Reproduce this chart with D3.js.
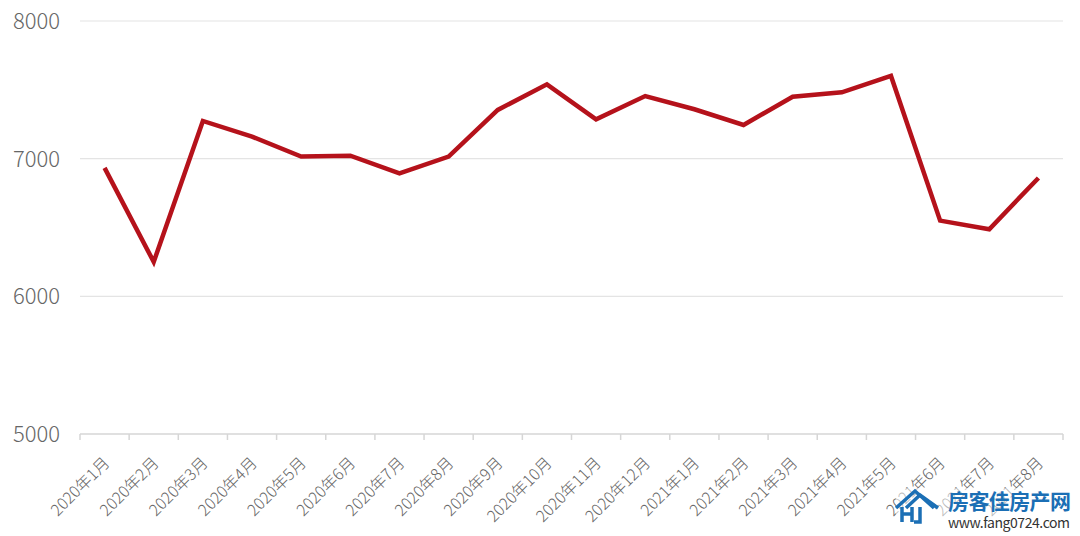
<!DOCTYPE html>
<html>
<head>
<meta charset="utf-8">
<script src="https://cdn.jsdelivr.net/npm/d3@7"></script>
<style>
  body { margin: 0; background: #fff; }
  text { font-family: "Noto Sans CJK SC", "Noto Sans", sans-serif; }
</style>
</head>
<body>
<svg id="chart"></svg>
<script>
var months = ["2020年1月","2020年2月","2020年3月","2020年4月","2020年5月","2020年6月","2020年7月","2020年8月","2020年9月","2020年10月",
              "2020年11月","2020年12月","2021年1月","2021年2月","2021年3月","2021年4月","2021年5月","2021年6月","2021年7月","2021年8月"]
var prices = [6933, 6250, 7274, 7160, 7015, 7022, 6894, 7015, 7354, 7540,
              7286, 7455, 7359, 7245, 7450, 7482, 7601, 6550, 6487, 6860]
var yTicks = [5000, 6000, 7000, 8000]

var width = 1080, height = 536
var svg = d3.select("#chart").attr("width", width).attr("height", height)

var x = d3.scaleBand().domain(months).range([80, 1063])
var y = d3.scaleLinear().domain([5000, 8000]).range([434, 21])

// grid lines
svg.selectAll("line.grid").data(yTicks.filter(d => d > 5000)).enter().append("line")
    .attr("class", "grid")
    .attr("x1", 80).attr("x2", 1063)
    .attr("y1", d => y(d)).attr("y2", d => y(d))
    .attr("stroke", "#e4e4e4").attr("stroke-width", 1.2)

// y labels
svg.selectAll("text.ylab").data(yTicks).enter().append("text")
    .attr("class", "ylab")
    .attr("x", 60).attr("y", d => y(d) + 8)
    .attr("text-anchor", "end")
    .attr("font-size", "22px")
    .attr("font-weight", 300)
    .attr("fill", "#666")
    .text(d => d)

// x axis with tick marks between bands
var xAxis = svg.append("g").attr("transform", "translate(0," + y(5000) + ")")
xAxis.append("line").attr("x1", 80).attr("x2", 1063).attr("stroke", "#d6d6d6").attr("stroke-width", 1.5)
xAxis.selectAll("line.tk").data(months.concat(["end"])).enter().append("line")
    .attr("class", "tk")
    .attr("x1", (d, i) => i < months.length ? x(d) : x.range()[1])
    .attr("x2", (d, i) => i < months.length ? x(d) : x.range()[1])
    .attr("y1", 0).attr("y2", 6)
    .attr("stroke", "#d6d6d6").attr("stroke-width", 1.5)

xAxis.selectAll("text").data(months).enter().append("text")
    .attr("transform", d => "translate(" + (x(d) + x.bandwidth() / 2 + 6) + ",30) rotate(-45)")
    .attr("text-anchor", "end")
    .attr("font-size", "16px")
    .attr("font-weight", 300)
    .attr("fill", "#666")
    .text(d => d)

// line
var line = d3.line()
    .x((d, i) => x(months[i]) + x.bandwidth() / 2)
    .y(d => y(d))

svg.append("path").datum(prices)
    .attr("d", line)
    .attr("fill", "none")
    .attr("stroke", "#b5121b")
    .attr("stroke-width", 4.5)
    .attr("stroke-linejoin", "miter")

// watermark
var wm = svg.append("g")
wm.append("rect").attr("x", 896).attr("y", 488).attr("width", 180).attr("height", 46).attr("fill", "#fff").attr("opacity", 0.55)
wm.append("path")
    .attr("d", "M902,522 L902,507 M902,514 L912,514 M912,507 L912,522 M920,507 L920,522 L914,522 M896,508 L915,491 L934,508 M906,508 L920,495 L938,508")
    .attr("fill", "none").attr("stroke", "#1b6fb5").attr("stroke-width", 3.5)
wm.append("text")
    .attr("x", 948).attr("y", 509)
    .attr("font-size", "21px").attr("font-weight", "bold")
    .attr("fill", "#1b6fb5")
    .attr("textLength", 123)
    .text("房客佳房产网")
wm.append("text")
    .attr("x", 948).attr("y", 528)
    .attr("font-size", "14px")
    .attr("fill", "#333")
    .attr("textLength", 122)
    .text("www.fang0724.com")
</script>
</body>
</html>
